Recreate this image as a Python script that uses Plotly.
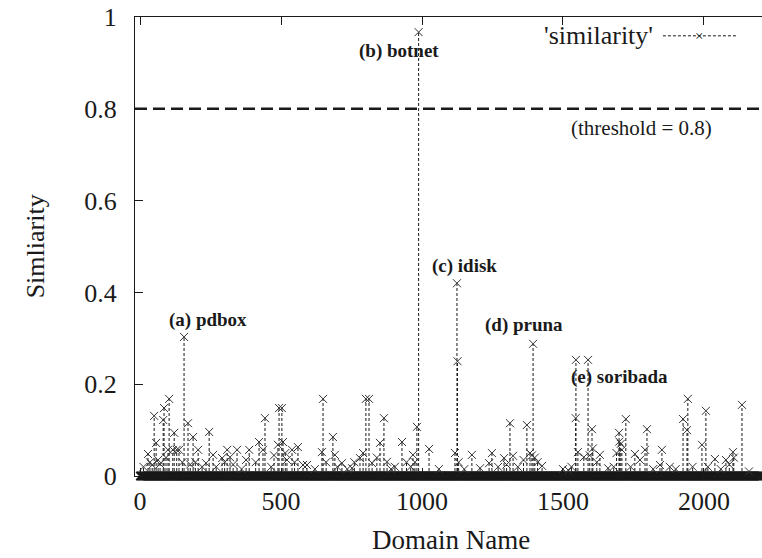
import plotly.graph_objects as go

# ---------------- data ----------------
all_domains = list(range(0, 2211))          # domain index (x)
baseline = [0.0] * len(all_domains)         # most domains have similarity 0

spike_domains = [
    12, 28, 35, 43, 50, 57, 64, 71, 82, 85, 92, 99, 103, 116, 121, 130, 138, 150, 156, 170,
    178, 188, 196, 206, 220, 234, 245, 259,
    270, 291, 300, 309, 319, 330, 344, 360, 376, 387, 410, 422, 436, 443, 465, 475, 489, 493,
    503, 507, 515, 521, 539, 548, 560, 578, 592,
    620, 645, 649, 660, 684, 691, 700, 716, 735, 752, 760, 780, 791, 801, 812, 823, 840, 851,
    865, 876, 890, 904, 929, 945, 960, 968, 975, 982, 988,
    1025, 1060, 1117, 1124, 1126, 1130, 1150, 1177, 1206, 1238, 1248, 1270, 1291, 1300, 1312,
    1323, 1340, 1360, 1372, 1383, 1390, 1394, 1400, 1410, 1426, 1500,
    1520, 1530, 1545, 1546, 1553, 1574, 1589, 1595, 1603, 1606, 1620, 1631, 1660, 1680, 1690,
    1699, 1700, 1705, 1709, 1723, 1740, 1755, 1773, 1791, 1798, 1820, 1844, 1851, 1879, 1900,
    1926, 1940, 1943, 1960, 1993, 2007, 2014, 2039, 2060, 2078, 2090, 2103, 2106, 2135, 2160,
]
spike_sims = [
    0.020, 0.048, 0.030, 0.024, 0.131, 0.072, 0.035, 0.026, 0.122, 0.148, 0.040, 0.057, 0.168,
    0.057, 0.094, 0.057, 0.057, 0.030, 0.303, 0.115,
    0.025, 0.085, 0.030, 0.057, 0.020, 0.028, 0.096, 0.046,
    0.020, 0.039, 0.030, 0.057, 0.041, 0.025, 0.057, 0.015, 0.035, 0.057, 0.030, 0.074, 0.057,
    0.126, 0.020, 0.045, 0.068, 0.148,
    0.148, 0.074, 0.050, 0.035, 0.057, 0.030, 0.063, 0.024, 0.024,
    0.015, 0.052, 0.168, 0.030, 0.085, 0.046, 0.020, 0.028, 0.015, 0.017, 0.030, 0.039, 0.050,
    0.168, 0.168, 0.028, 0.040, 0.072,
    0.126, 0.031, 0.015, 0.020, 0.074, 0.030, 0.020, 0.046, 0.030, 0.107, 0.967,
    0.059, 0.015, 0.050, 0.420, 0.250, 0.030, 0.015, 0.046, 0.017, 0.028, 0.050, 0.020, 0.039,
    0.025, 0.115,
    0.044, 0.020, 0.035, 0.111, 0.050, 0.045, 0.288, 0.040, 0.030, 0.022, 0.015,
    0.012, 0.020, 0.126, 0.253, 0.052, 0.041, 0.253, 0.045, 0.102, 0.060, 0.030, 0.046, 0.017,
    0.020, 0.050,
    0.094, 0.075, 0.070, 0.057, 0.124, 0.020, 0.048, 0.035, 0.057, 0.102, 0.015, 0.024, 0.057,
    0.020, 0.015,
    0.124, 0.100, 0.168, 0.020, 0.068, 0.142, 0.020, 0.037, 0.015, 0.035, 0.025, 0.052, 0.040,
    0.155, 0.010,
]

threshold = 0.8
x_ticks = [0, 500, 1000, 1500, 2000]
y_ticks = [0, 0.2, 0.4, 0.6, 0.8, 1]

FONT = '"Liberation Serif", "Times New Roman", Times, serif'
INK = "#1a1a1a"

# impulse segments built from the data
imp_x, imp_y = [], []
for d, s in zip(spike_domains, spike_sims):
    imp_x += [d, d, None]
    imp_y += [0, s, None]

fig = go.Figure()

# baseline band of 'x' points at zero
fig.add_trace(go.Scatter(
    x=all_domains, y=baseline, mode="markers", cliponaxis=False,
    marker=dict(symbol="x-thin", size=8, line=dict(width=1.3, color=INK)),
    showlegend=False, hoverinfo="skip"))

# impulses
fig.add_trace(go.Scatter(
    x=imp_x, y=imp_y, mode="lines",
    line=dict(color=INK, width=1, dash="3px,2px"),
    showlegend=False, hoverinfo="skip"))

# points at top of impulses
fig.add_trace(go.Scatter(
    x=spike_domains, y=spike_sims, mode="markers", cliponaxis=False,
    marker=dict(symbol="x-thin", size=8, line=dict(width=1, color="#333333")),
    showlegend=False))

# threshold line
fig.add_shape(type="line", xref="paper", x0=0, x1=1, yref="y", y0=threshold, y1=threshold,
              line=dict(color=INK, width=2.5, dash="12px,6px"))

# legend sample (gnuplot style: text, then line with a point)
fig.add_shape(type="line", xref="paper", yref="paper", x0=0.842, x1=0.959, y0=0.959, y1=0.959,
              line=dict(color=INK, width=1, dash="3px,2px"))
fig.add_annotation(xref="paper", yref="paper", x=0.9, y=0.959, text="×", showarrow=False,
                   font=dict(family=FONT, size=15, color=INK), xanchor="center", yanchor="middle")
fig.add_annotation(xref="paper", yref="paper", x=0.83, y=0.959, text="'similarity'",
                   showarrow=False, font=dict(family=FONT, size=26, color=INK),
                   xanchor="right", yanchor="middle")

ann_font = dict(family=FONT, size=19, color=INK, weight="bold")
for txt, ax, ay in [("(a) pdbox", 241, 0.340), ("(b) botnet", 918, 0.925),
                    ("(c) idisk", 1149, 0.458), ("(d) pruna", 1362, 0.329),
                    ("(e) soribada", 1702, 0.216)]:
    fig.add_annotation(x=ax, y=ay, text=txt, showarrow=False, font=ann_font,
                       xanchor="center", yanchor="middle")
fig.add_annotation(x=1780, y=0.758, text="(threshold = 0.8)", showarrow=False,
                   font=dict(family=FONT, size=21, color=INK),
                   xanchor="center", yanchor="middle")

# axis titles
fig.add_annotation(xref="paper", yref="paper", x=0.504, y=-0.139, text="Domain Name",
                   showarrow=False, font=dict(family=FONT, size=27, color=INK),
                   xanchor="center", yanchor="middle")
fig.add_annotation(xref="paper", yref="paper", x=-0.159, y=0.501, text="Simliarity",
                   textangle=-90, showarrow=False, font=dict(family=FONT, size=26, color=INK),
                   xanchor="center", yanchor="middle")

fig.update_layout(
    width=762, height=558,
    margin=dict(l=135, r=0, t=17, b=82, autoexpand=False),
    paper_bgcolor="white", plot_bgcolor="white",
    font=dict(family=FONT, size=26, color=INK),
    xaxis=dict(range=[-18, 2206], tickvals=x_ticks, ticks="inside", ticklen=8, tickwidth=1,
               tickcolor=INK, showline=True, linecolor=INK, linewidth=1, mirror="ticks",
               showgrid=False, zeroline=False, ticklabelstandoff=2, automargin=False),
    yaxis=dict(range=[0, 1], tickvals=y_ticks, ticks="inside", ticklen=8, tickwidth=1,
               tickcolor=INK, showline=True, linecolor=INK, linewidth=1, mirror=False,
               showgrid=False, zeroline=False, ticklabelstandoff=12, automargin=False,
               ticklabeloverflow="allow"),
)

# remove the default 8px page margin so the figure fills the window exactly
fig.write_html("out.html", config={"displayModeBar": False},
               post_script="document.body.style.margin='0';document.body.style.padding='0';")
